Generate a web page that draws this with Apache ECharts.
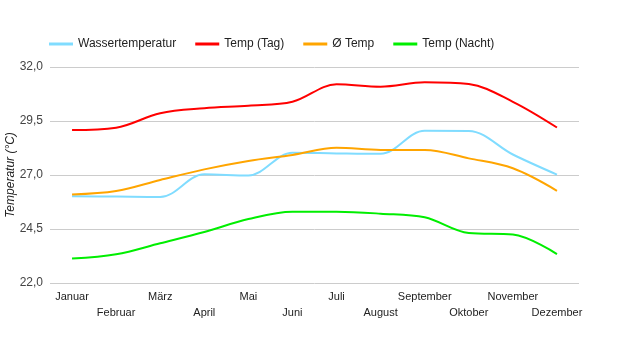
<!DOCTYPE html>
<html>
<head>
<meta charset="utf-8">
<style>
  html, body { margin: 0; padding: 0; background: #fff; }
  #chart { width: 617px; height: 350px; }
</style>
<script src="https://cdn.jsdelivr.net/npm/echarts@6/dist/echarts.min.js"></script>
</head>
<body>
<div id="chart"></div>
<script>
// data
var months = ["Januar", "Februar", "März", "April", "Mai", "Juni", "Juli", "August", "September", "Oktober", "November", "Dezember"];
var wasser = [26.02, 26.0, 25.98, 27.03, 26.98, 28.03, 28.0, 27.98, 29.05, 29.04, 27.95, 27.02];
var tag = [29.08, 29.19, 29.86, 30.09, 30.21, 30.39, 31.2, 31.09, 31.29, 31.21, 30.39, 29.2];
var mittel = [26.1, 26.26, 26.77, 27.26, 27.65, 27.93, 28.26, 28.16, 28.16, 27.77, 27.31, 26.27];
var nacht = [23.13, 23.33, 23.84, 24.36, 24.96, 25.3, 25.3, 25.21, 25.04, 24.31, 24.24, 23.34];

var font = "Liberation Sans, Arial, sans-serif";

function line(name, data, color) {
  return {
    name: name,
    type: "line",
    data: data,
    smooth: 0.35,
    symbol: "none",
    lineStyle: { color: color, width: 2 },
    itemStyle: { color: color }
  };
}

var myChart = echarts.init(document.getElementById("chart"));
var option = {
  animation: false,
  textStyle: { fontFamily: font },
  legend: {
    left: 44,
    top: 33,
    icon: "rect",
    itemWidth: 24,
    itemHeight: 3,
    itemGap: 19,
    textStyle: { fontFamily: font, fontSize: 12, color: "#222" },
    data: ["Wassertemperatur", "Temp (Tag)", "Ø Temp", "Temp (Nacht)"]
  },
  grid: { left: 50, right: 38, top: 67, bottom: 67, outerBoundsMode: "none", containLabel: false },
  xAxis: {
    type: "category",
    data: months,
    boundaryGap: true,
    axisLine: { show: false },
    axisTick: { show: false },
    axisLabel: {
      interval: 0,
      margin: 6,
      fontFamily: font,
      fontSize: 11,
      color: "#222",
      lineHeight: 16,
      formatter: function (v, i) {
        return i % 2 ? "\n" + v : v;
      }
    }
  },
  yAxis: {
    type: "value",
    min: 22,
    max: 32,
    interval: 2.5,
    name: "Temperatur (°C)",
    nameLocation: "middle",
    nameGap: 33,
    nameMoveOverlap: false,
    nameTextStyle: { fontFamily: font, fontSize: 12, fontStyle: "italic", color: "#222" },
    axisLine: { show: false },
    axisTick: { show: false },
    axisLabel: {
      fontFamily: font,
      fontSize: 12,
      color: "#444",
      margin: 7,
      formatter: function (v) { return v.toFixed(1).replace(".", ","); }
    },
    splitLine: { lineStyle: { color: "#cccccc", width: 1 } }
  },
  series: [
    line("Wassertemperatur", wasser, "#80dcff"),
    line("Temp (Tag)", tag, "#ff0000"),
    line("Ø Temp", mittel, "#ffa500"),
    line("Temp (Nacht)", nacht, "#00ee00")
  ]
};
myChart.setOption(option);
</script>
</body>
</html>
